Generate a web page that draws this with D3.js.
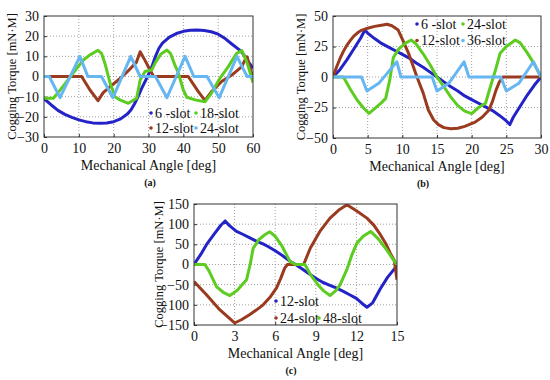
<!DOCTYPE html>
<html><head><meta charset="utf-8">
<script src="https://cdn.jsdelivr.net/npm/d3@7"></script>
<style>body{margin:0;background:#fff}svg{display:block}svg text{font-family:"Liberation Serif","Times New Roman",serif;}</style>
</head><body>
<svg id="c" width="550" height="380"></svg>
<script>
// ---------- data ----------
// panel (a)
const aXTicks = [0,10,20,30,40,50,60];
const aYTicks = [-30,-20,-10,0,10,20,30];
const aLegend = ["6 -slot","12-slot","18-slot","24-slot"];
const a6 = [[0,-11],[2,-14],[4,-16.8],[6,-18.8],[8,-20.3],[10,-21.5],[12,-22.4],[14,-23],[16,-23.2],[18,-23.1],[20,-22.4],[22,-21],[24,-18.5],[25,-16.5],[26,-13.5],[27,-10],[28,-6],[29,-2.5],[30,1],[31,5],[32,10],[33,14],[34,16.5],[36,19.5],[38,21.3],[40,22.4],[42,22.9],[44,23],[46,22.8],[48,22.2],[50,21],[52,18.8],[54,16],[56,13.3],[57,11.6],[58,9],[59,6.5],[60,4]];
const a12 = [[0,0],[10.8,0],[13.2,-6.7],[15.5,-12],[17,-8],[19,-5],[21.5,-1.5],[24,2.5],[26.5,7],[27.6,12.3],[29,8],[30.5,3],[31.5,0],[41.4,0],[44.3,-7.5],[46.2,-11.8],[48.1,-7.5],[51,-2.5],[53.9,0.7],[56.8,4.9],[57.7,8.2],[58.3,9.8],[59.4,2.4],[60,0]];
const a18 = [[0,-10.8],[2.7,-10.8],[4.5,-7],[6.5,-2.5],[9.4,4.1],[11.3,8.2],[13.2,10.7],[15.5,13],[16.5,11.5],[17.5,6.5],[19,-3.4],[20.4,-10],[21.8,-11.6],[24.2,-13.3],[26.6,-10.8],[27.6,-1.7],[29,2.5],[30.9,3.2],[32,7],[33.5,11],[35.3,13.1],[36.3,11.5],[37.5,6],[38.6,1.6],[40,-6.7],[41,-10.3],[43.4,-11.6],[46.2,-12.5],[47.8,-9],[50.5,-0.9],[52.9,4.9],[55.3,11.5],[56.8,12.8],[58.2,7.4],[59.5,0],[60,-3]];
const a24 = [[0,0],[1.5,0],[4.6,-10.5],[10.3,10],[12.6,0],[16.5,0],[19.8,-10.5],[24.9,10],[27.6,0],[32,0],[35.3,-10.5],[40.5,10],[43,0],[46.8,0],[50.3,-10.5],[55.4,10],[58.3,0],[60,0]];

// panel (b)
const bXTicks = [0,5,10,15,20,25,30];
const bYTicks = [-50,-25,0,25,50];
const bLegend = ["6 -slot","12-slot","24-slot","36-slot"];
const b6 = [[0,0],[1,6],[2,14],[3,23],[4,32],[4.6,38.5],[5,36],[6,31.5],[7,27.5],[8,24.5],[9,21.5],[10,18.5],[11,15.5],[12,11.5],[13,8],[14,4],[15,0],[16,-4],[17,-8],[18,-11.5],[19,-15.5],[20,-18.5],[21,-21.5],[22,-24.5],[23,-27.5],[24,-31.5],[25,-36],[25.5,-39],[26,-33],[27,-24],[28,-15],[29,-7],[30,0]];
const b12 = [[0,0],[0.5,8],[1,15],[1.5,21],[2,26],[2.5,30],[3,33.5],[3.5,36],[4,38],[5,40],[6,41.5],[7,42.5],[7.8,43.2],[8.5,42],[9.4,38.5],[10,31],[10.9,19.4],[12.1,0.2],[13,-13],[13.75,-27],[14.5,-35],[15.2,-39],[16,-41.5],[17,-42.5],[18,-42],[19,-40.5],[20.5,-37],[21.5,-33],[22.5,-27],[23,-20],[23.5,-11],[24,-4],[24.5,0],[30,0]];
const b24 = [[0,0],[1.5,0],[2.5,-10],[3.5,-19],[4.5,-26],[5.2,-29.8],[6,-26],[7,-21],[7.6,-17.5],[8.2,-2],[8.7,16],[9.5,23],[10.5,28],[11.3,30.3],[12,27],[13,19],[14,10],[15,0],[16,-8],[17,-16.5],[18,-23.5],[19,-28],[20,-30],[21,-25],[22,-21.5],[22.7,-8],[23.4,5],[24.1,19.4],[25,25],[26.3,30.3],[27,28],[28,20],[29,11],[30,0]];
const b36 = [[0,0],[4.1,0],[4.9,-11.5],[6.6,-5.2],[9.2,12.5],[9.8,0],[14.3,0],[15,-11.5],[16.7,-5.2],[18.9,12.5],[19.6,0],[24.2,0],[25,-11.5],[26.8,-5.2],[28.9,12.5],[30,0]];

// panel (c)
const cXTicks = [0,3,6,9,12,15];
const cYTicks = [-150,-100,-50,0,50,100,150];
const cLegend = ["12-slot","24-slot","48-slot"];
const c12 = [[0,0],[0.5,25],[0.92,49],[1.5,76],[2,98],[2.3,108],[2.6,97],[3.14,82],[3.6,75],[4.13,66],[4.6,58],[5.1,51],[5.5,44],[6,34],[6.5,23],[7.1,8],[7.5,0],[8,-11],[8.5,-23],[9,-34],[9.5,-44],[10,-51],[10.5,-58],[11,-66],[11.5,-75],[12,-84],[12.4,-96],[12.78,-106],[13.2,-95],[13.77,-60],[14.3,-32],[15,-3]];
const c24 = [[0,-42],[0.92,-75],[1.9,-112],[2.5,-130],[3.0,-145],[3.5,-137],[4.13,-124],[4.6,-113],[5.11,-100],[5.6,-82],[6.1,-58],[6.4,-35],[6.7,-9],[6.9,0],[8.1,0],[8.6,41],[9.3,82],[10.05,115],[10.7,135],[11.3,148],[12,133],[12.78,115],[13.3,97],[13.77,74],[14.2,50],[14.5,28],[14.8,10],[15,-38]];
const c48 = [[0,0],[0.8,0],[1.1,-15],[1.66,-55],[2.2,-70],[2.65,-77],[3.2,-64],[3.88,-38],[4.15,0],[4.37,40],[4.8,62],[5.2,73],[5.6,81],[6,70],[6.5,46],[7.1,7],[7.5,0],[8.2,0],[8.6,-25],[9.2,-52],[9.6,-66],[10.05,-77],[10.5,-64],[10.8,-50],[11.3,-12],[11.67,24],[12.04,53],[12.5,70],[13.05,82],[13.6,64],[14.2,38],[14.6,18],[15,0]];

const colors = ["#2323c8","#9a3a1e","#5ccc20","#66b6f2"];

// ---------- drawing ----------
const svg = d3.select("#c");
const FONT = '"Liberation Serif","Times New Roman",serif';

function panel(cfg){
  const x = d3.scaleLinear().domain(cfg.xd).range([cfg.l, cfg.r]);
  const y = d3.scaleLinear().domain(cfg.yd).range([cfg.b, cfg.t]);
  const g = svg.append("g");
  const id = "clip" + cfg.name;
  svg.append("defs").append("clipPath").attr("id", id)
    .append("rect").attr("x", cfg.l).attr("y", cfg.t).attr("width", cfg.r-cfg.l).attr("height", cfg.b-cfg.t);
  // grid
  g.selectAll(".gx").data(cfg.xt.slice(1,-1)).join("line")
    .attr("x1", d=>x(d)).attr("x2", d=>x(d)).attr("y1", cfg.t).attr("y2", cfg.b)
    .attr("stroke","#8a8a8a").attr("stroke-width",0.8).attr("stroke-dasharray","1,2");
  g.selectAll(".gy").data(cfg.yt.slice(1,-1)).join("line")
    .attr("y1", d=>y(d)).attr("y2", d=>y(d)).attr("x1", cfg.l).attr("x2", cfg.r)
    .attr("stroke","#8a8a8a").attr("stroke-width",0.8).attr("stroke-dasharray","1,2");
  // axes
  const xa = g.append("g").attr("transform",`translate(0,${cfg.b})`)
    .call(d3.axisBottom(x).tickValues(cfg.xt).tickSizeInner(-3).tickSizeOuter(0).tickPadding(6));
  const ya = g.append("g").attr("transform",`translate(${cfg.l},0)`)
    .call(d3.axisLeft(y).tickValues(cfg.yt).tickSizeInner(-3).tickSizeOuter(0).tickPadding(5));
  [xa,ya].forEach(a=>{
    a.attr("font-family",FONT).attr("font-size",14);
    a.select(".domain").remove();
    a.selectAll("text").style("font-family",FONT).style("font-size","14px").attr("fill","#111");
    a.selectAll("line").attr("stroke","#333");
  });
  // series
  const line = d3.line().x(d=>x(d[0])).y(d=>y(d[1]));
  const sg = g.append("g").attr("clip-path",`url(#${id})`);
  cfg.series.forEach((s,i)=>{
    sg.append("path").datum(s).attr("d",line).attr("fill","none")
      .attr("stroke",colors[i]).attr("stroke-width",3).attr("stroke-linejoin","round");
  });
  // box
  g.append("rect").attr("x",cfg.l).attr("y",cfg.t).attr("width",cfg.r-cfg.l).attr("height",cfg.b-cfg.t)
    .attr("fill","none").attr("stroke","#333").attr("stroke-width",1);
  // axis titles
  g.append("text").attr("x",(cfg.l+cfg.r)/2).attr("y",cfg.b+33).attr("text-anchor","middle")
    .style("font-family",FONT).style("font-size","14px").attr("fill","#111").text("Mechanical Angle [deg]");
  g.append("text").attr("transform",`translate(${cfg.yl},${(cfg.t+cfg.b)/2}) rotate(-90)`)
    .attr("text-anchor","middle").attr("dy","0.35em")
    .style("font-family",FONT).style("font-size","12.5px").attr("fill","#111").text("Cogging Torque [mN·M]");
  g.append("text").attr("x",cfg.lbx).attr("y",cfg.b+49).attr("text-anchor","middle")
    .style("font-family",FONT).style("font-size","10px").attr("font-weight","bold").attr("fill","#111").text(cfg.label);
  // legend
  cfg.legend.forEach((name,i)=>{
    const [col,row] = cfg.legPos[i];
    const lx = cfg.legX[col], ly = cfg.legY[row];
    g.append("circle").attr("cx",lx).attr("cy",ly).attr("r",1.8).attr("fill",colors[i]);
    g.append("text").attr("x",lx+4).attr("y",ly).attr("dy","0.35em")
      .style("font-family",FONT).style("font-size","14px").attr("fill","#111").text(name);
  });
}

panel({name:"a", xd:[0,60], yd:[-30,30], l:44, r:253, t:16, b:137, xt:aXTicks, yt:aYTicks,
  series:[a6,a12,a18,a24], legend:aLegend, legPos:[[0,0],[0,1],[1,0],[1,1]], legX:[151,196], legY:[113,128], yl:12, lbx:150, label:"(a)"});
panel({name:"b", xd:[0,30], yd:[-50,50], l:333, r:541, t:16, b:138, xt:bXTicks, yt:bYTicks,
  series:[b6,b12,b24,b36], legend:bLegend, legPos:[[0,0],[0,1],[1,0],[1,1]], legX:[417,463], legY:[24,40.5], yl:301, lbx:423, label:"(b)"});
panel({name:"c", xd:[0,15], yd:[-150,150], l:194, r:397, t:204, b:325, xt:cXTicks, yt:cYTicks,
  series:[c12,c24,c48], legend:cLegend, legPos:[[0,0],[0,1],[1,1]], legX:[276,319], legY:[301,318], yl:159, lbx:291, label:"(c)"});
</script>
</body></html>
